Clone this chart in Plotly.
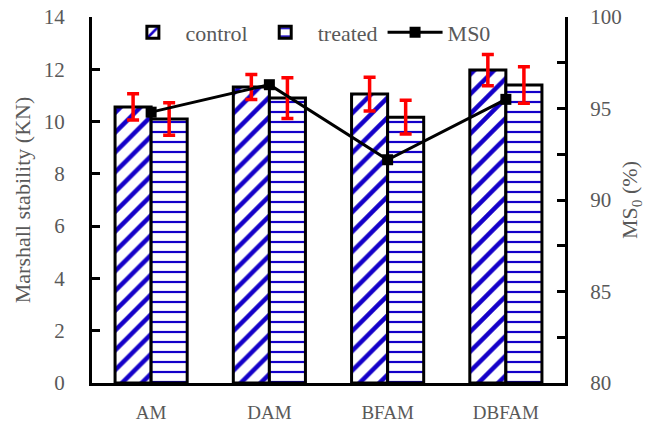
import plotly.graph_objects as go

# Mixture types and measured values
categories = ["AM", "DAM", "BFAM", "DBFAM"]
control_stability = [10.56, 11.32, 11.05, 11.97]
control_err = [0.50, 0.48, 0.65, 0.60]
treated_stability = [10.10, 10.90, 10.17, 11.40]
treated_err = [0.62, 0.78, 0.65, 0.70]
ms0 = [94.8, 96.3, 92.2, 95.5]

GRAY = "#595959"
BLUE = "#1400c8"
FONT = "Liberation Serif"

fig = go.Figure()

fig.add_trace(go.Bar(
    x=categories, y=control_stability, name="control",
    marker=dict(color="white",
                line=dict(color="black", width=3),
                pattern=dict(shape="/", fgcolor=BLUE, bgcolor="white",
                             fgopacity=1, size=14, solidity=0.32)),
    error_y=dict(type="data", array=control_err, color="red",
                 thickness=3.5, width=6),
))
fig.add_trace(go.Bar(
    x=categories, y=treated_stability, name="treated",
    marker=dict(color="white",
                line=dict(color="black", width=3),
                pattern=dict(shape="-", fgcolor=BLUE, bgcolor="white",
                             fgopacity=1, size=10, solidity=0.22)),
    error_y=dict(type="data", array=treated_err, color="red",
                 thickness=3.5, width=6),
))
fig.add_trace(go.Scatter(
    x=categories, y=ms0, name="MS0", yaxis="y2",
    mode="lines+markers",
    line=dict(color="black", width=3),
    marker=dict(symbol="square", size=11, color="black"),
))

fig.update_layout(
    width=645, height=433,
    margin=dict(l=92, r=80, t=17, b=50, autoexpand=False),
    paper_bgcolor="white", plot_bgcolor="white",
    font=dict(family=FONT, color=GRAY, size=20),
    barmode="group", bargap=0.39, bargroupgap=0,
    showlegend=True,
    legend=dict(orientation="h", x=0.06, y=1.015, xanchor="left",
                yanchor="top", bgcolor="rgba(0,0,0,0)",
                font=dict(family=FONT, size=22, color=GRAY),
                itemwidth=55, tracegroupgap=0),
    xaxis=dict(showline=True, linecolor="black", linewidth=3,
               ticks="", showgrid=False, ticklabelstandoff=10,
               automargin=False,
               tickfont=dict(family=FONT, size=19, color=GRAY)),
    yaxis=dict(range=[0, 14], dtick=2, showline=True, linecolor="black",
               linewidth=3, ticks="inside", ticklen=8, tickwidth=3,
               tickcolor="black", showgrid=False, zeroline=False,
               ticklabelstandoff=20, automargin=False,
               title=dict(text="Marshall stability (KN)",
                          font=dict(family=FONT, size=22, color=GRAY),
                          standoff=8),
               tickfont=dict(family=FONT, size=21, color=GRAY)),
    yaxis2=dict(range=[80, 100], dtick=5, overlaying="y", side="right",
                showline=True, linecolor="black", linewidth=3,
                ticks="inside", ticklen=8, tickwidth=3, tickcolor="black",
                minor=dict(dtick=2.5, ticks="inside", ticklen=8,
                           tickwidth=3, tickcolor="black"),
                showgrid=False, zeroline=False,
                ticklabelstandoff=18, automargin=False,
                title=dict(text="MS<sub>0</sub> (%)",
                           font=dict(family=FONT, size=22, color=GRAY),
                           standoff=8),
                tickfont=dict(family=FONT, size=21, color=GRAY)),
)

fig.write_html("out.html")
